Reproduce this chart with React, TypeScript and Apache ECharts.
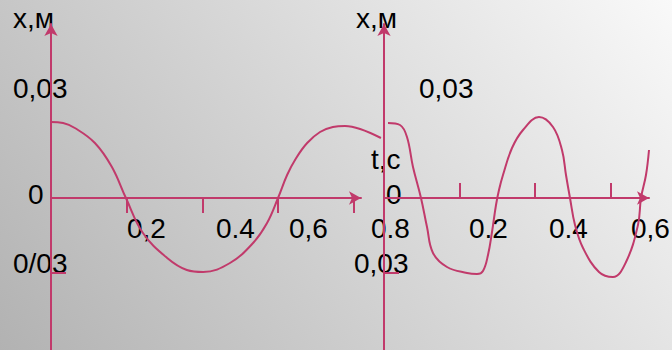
import React, { useEffect, useRef } from "react";
import * as echarts from "echarts";

// Oscillation x(t) of the first body (time, s / displacement, m)
const leftTime = [0, 0.032, 0.063, 0.116, 0.161, 0.198, 0.243, 0.307, 0.359, 0.402, 0.473, 0.534, 0.571, 0.6, 0.624, 0.648, 0.677, 0.711, 0.745, 0.777, 0.817, 0.872];
const leftDisp = [0.0304, 0.03, 0.028, 0.022, 0.0124, 0, -0.014, -0.024, -0.0288, -0.0296, -0.026, -0.018, -0.01, 0, 0.0092, 0.016, 0.022, 0.0264, 0.0284, 0.0288, 0.0276, 0.024];

// Oscillation x(t) of the second body
const rightTime = [0.0106, 0.0424, 0.0609, 0.0768, 0.098, 0.1139, 0.1298, 0.1669, 0.2199, 0.2464, 0.2622, 0.2755, 0.2861, 0.2967, 0.3046, 0.3152, 0.3391, 0.3682, 0.4106, 0.4477, 0.4715, 0.4821, 0.4927, 0.506, 0.5272, 0.5695, 0.6066, 0.6411, 0.6728, 0.6808, 0.694, 0.702];
const rightDisp = [0.03, 0.0292, 0.0244, 0.0124, 0, -0.0116, -0.022, -0.0276, -0.03, -0.0304, -0.0292, -0.0228, -0.0136, -0.0028, 0.0032, 0.0092, 0.02, 0.0272, 0.0324, 0.0284, 0.0192, 0.0092, 0, -0.0108, -0.02, -0.0296, -0.0316, -0.0256, -0.0108, 0, 0.0092, 0.0192];

// Tick values
const leftTimeTicks = [0.2, 0.4, 0.6, 0.8];
const rightTimeTicks = [0.2, 0.4, 0.6];
const dispTicks = [-0.03];

// Texts written on the board
const axisNameDisp = "х,м";
const axisNameTime = "t,c";
const leftTimeLabels = ["0,2", "0.4", "0,6", "0.8"];
const rightTimeLabels = ["0.2", "0.4", "0,6"];
const leftDispLabels = ["0,03", "0", "0/03"];
const rightDispLabels = ["0,03", "0", "0,03"];

const RED = "#c13a6b";
const FONT = '28px "Liberation Sans", Arial, sans-serif';
const DISP_MIN = -0.0608;
const DISP_MAX = 0.0696;

const pair = (t: number[], x: number[]) => t.map((v, i) => [v, x[i]]);

function makeText(text: string, x: number, y: number) {
  return {
    type: "text",
    x,
    y,
    silent: true,
    style: {
      text,
      font: FONT,
      fill: "#000",
      textAlign: "left",
      textVerticalAlign: "middle",
      align: "left",
      verticalAlign: "middle",
    },
  };
}

function timeAxis(gridIndex: number, max: number, ticks: number[], inside: boolean) {
  return {
    type: "value",
    gridIndex,
    min: 0,
    max,
    axisLine: {
      show: true,
      onZero: true,
      symbol: ["none", "arrow"],
      symbolSize: [10, 12],
      lineStyle: { color: RED, width: 2 },
    },
    axisTick: {
      show: true,
      inside,
      length: 15,
      customValues: ticks,
      lineStyle: { color: RED, width: 2 },
    },
    axisLabel: { show: false },
    splitLine: { show: false },
  };
}

function dispAxis(gridIndex: number) {
  return {
    type: "value",
    gridIndex,
    min: DISP_MIN,
    max: DISP_MAX,
    axisLine: {
      show: true,
      onZero: true,
      symbol: ["none", "arrow"],
      symbolSize: [10, 12],
      lineStyle: { color: RED, width: 2 },
    },
    axisTick: {
      show: true,
      inside: true,
      length: 15,
      customValues: dispTicks,
      lineStyle: { color: RED, width: 2 },
    },
    axisLabel: { show: false },
    splitLine: { show: false },
  };
}

export default function App() {
  const ref = useRef<HTMLDivElement>(null);

  useEffect(() => {
    if (!ref.current) return;
    const chart = echarts.init(ref.current, null, { renderer: "svg" });

    const leftTimePos = [127, 216, 289, 371];
    const rightTimePos = [469, 549, 631];
    const leftDispPos = [
      [13, 88],
      [28, 194],
      [13, 263],
    ];
    const rightDispPos = [
      [419, 88],
      [386, 194],
      [354, 263],
    ];

    const texts = [
      makeText(axisNameDisp, 13, 18),
      makeText(axisNameDisp, 356, 18),
      makeText(axisNameTime, 371, 159),
      ...leftTimeLabels.map((s, i) => makeText(s, leftTimePos[i], 228)),
      ...rightTimeLabels.map((s, i) => makeText(s, rightTimePos[i], 228)),
      ...leftDispLabels.map((s, i) => makeText(s, leftDispPos[i][0], leftDispPos[i][1])),
      ...rightDispLabels.map((s, i) => makeText(s, rightDispPos[i][0], rightDispPos[i][1])),
    ];

    // the first curve runs a little past its arrow, so it gets a wider hidden
    // grid with the same time scale (0.8193 s over 310 px)
    const leftScale = 0.8193 / 310;

    chart.setOption({
      animation: false,
      backgroundColor: "transparent",
      grid: [
        { left: 51, top: 24, width: 310, height: 326 },
        { left: 384, top: 24, width: 265, height: 326 },
        { left: 51, top: 24, width: 330, height: 326 },
      ],
      xAxis: [
        timeAxis(0, 0.8193, leftTimeTicks, false),
        timeAxis(1, 0.702, rightTimeTicks, true),
        { type: "value", gridIndex: 2, min: 0, max: 330 * leftScale, show: false },
      ],
      yAxis: [
        dispAxis(0),
        dispAxis(1),
        { type: "value", gridIndex: 2, min: DISP_MIN, max: DISP_MAX, show: false },
      ],
      series: [
        {
          type: "line",
          xAxisIndex: 2,
          yAxisIndex: 2,
          data: pair(leftTime, leftDisp),
          smooth: 0.4,
          showSymbol: false,
          clip: false,
          lineStyle: { color: RED, width: 2 },
        },
        {
          type: "line",
          xAxisIndex: 1,
          yAxisIndex: 1,
          data: pair(rightTime, rightDisp),
          smooth: 0.4,
          showSymbol: false,
          clip: false,
          lineStyle: { color: RED, width: 2 },
        },
      ],
      graphic: texts,
    });

    return () => chart.dispose();
  }, []);

  return (
    <div
      ref={ref}
      style={{
        position: "fixed",
        left: 0,
        top: 0,
        width: 672,
        height: 350,
        background: "linear-gradient(52deg, #b2b2b2 0%, #f9f9f9 100%)",
      }}
    />
  );
}
